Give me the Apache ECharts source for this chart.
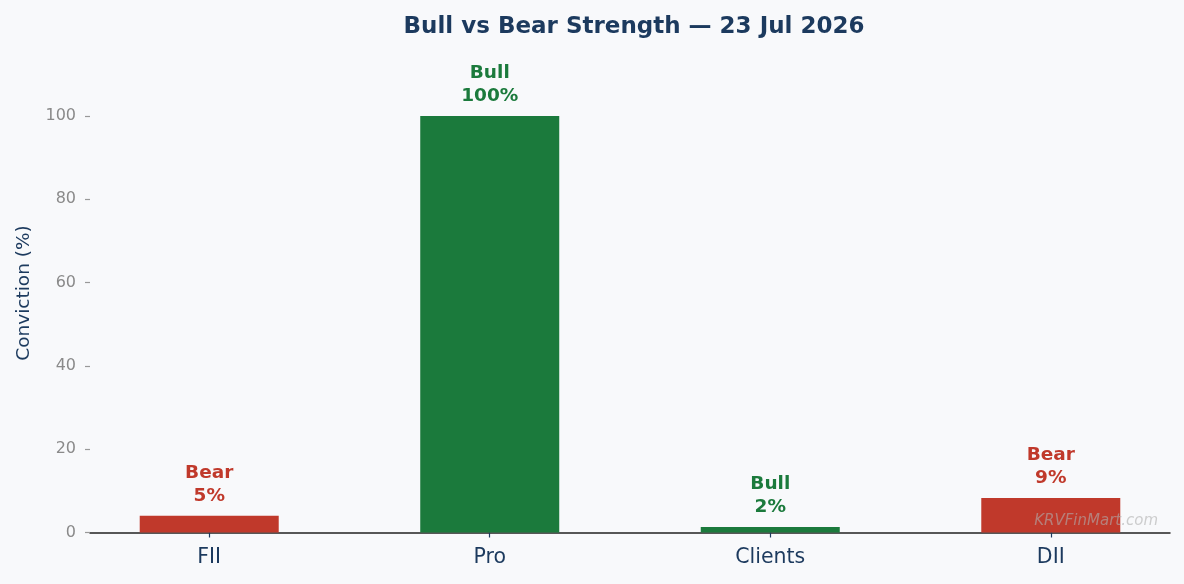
<!DOCTYPE html>
<html>
<head>
<meta charset="utf-8">
<script src="https://cdn.jsdelivr.net/npm/echarts@6/dist/echarts.min.js"></script>
<style>
  html, body { margin: 0; padding: 0; background: #f8f9fb; }
  #chart { width: 1184px; height: 584px; }
</style>
</head>
<body>
<div id="chart"></div>
<script>
// data
var categories = ['FII', 'Pro', 'Clients', 'DII'];
var barValues = [4.0, 100, 1.3, 8.3];
var labelPct = [5, 100, 2, 9];
var sentiment = ['Bear', 'Bull', 'Bull', 'Bear'];
var yTicks = [0, 20, 40, 60, 80, 100];

var BULL = '#1b7a3c', BEAR = '#c0392b', NAVY = '#1c3a5e';
var FONT = 'DejaVu Sans';

var myChart = echarts.init(document.getElementById('chart'));

var barData = barValues.map(function (v, i) {
    var col = sentiment[i] === 'Bull' ? BULL : BEAR;
    return {
        value: [i, v],
        itemStyle: { color: col },
        label: { color: col, formatter: sentiment[i] + '\n' + labelPct[i] + '%' }
    };
});

var option = {
    backgroundColor: '#f8f9fb',
    animation: false,
    title: {
        text: 'Bull vs Bear Strength — 23 Jul 2026',
        left: 629, top: 11, textAlign: 'center',
        textStyle: { color: NAVY, fontSize: 23, fontWeight: 'bold', fontFamily: FONT }
    },
    grid: { left: 90, right: 14, top: 53.5, bottom: 51.5 },
    xAxis: {
        type: 'value',
        min: -0.425, max: 3.425,
        splitLine: { show: false },
        axisLine: { show: true, onZero: false, lineStyle: { color: '#222', width: 1.5 } },
        axisTick: { show: true, customValues: [0, 1, 2, 3], length: 5, lineStyle: { color: NAVY, width: 1.2 } },
        axisLabel: {
            customValues: [0, 1, 2, 3],
            formatter: function (v) { return categories[Math.round(v)]; },
            color: NAVY, fontSize: 20.5, fontFamily: FONT, margin: 15
        }
    },
    yAxis: {
        type: 'value',
        min: 0, max: 115,
        name: 'Conviction (%)',
        nameLocation: 'middle',
        nameGap: 56,
        nameTextStyle: { color: NAVY, fontSize: 18.5, fontFamily: FONT },
        splitLine: { show: false },
        axisLine: { show: false, onZero: false },
        axisTick: { show: true, customValues: yTicks, length: 5, lineStyle: { color: '#999', width: 1.2 } },
        axisLabel: { customValues: yTicks, color: '#8a8a8a', fontSize: 16, fontFamily: FONT, margin: 14 }
    },
    series: [{
        type: 'bar',
        barWidth: 139,
        data: barData,
        label: {
            show: true, position: 'top', distance: 8,
            fontSize: 18.5, fontWeight: 'bold', fontFamily: FONT, lineHeight: 23
        }
    }],
    graphic: [{
        type: 'text',
        right: 26, top: 514, z: 100,
        style: {
            text: 'KRVFinMart.com',
            fill: 'rgba(175,175,175,0.6)',
            font: 'italic 15px "DejaVu Sans"'
        }
    }]
};

myChart.setOption(option);
</script>
</body>
</html>
